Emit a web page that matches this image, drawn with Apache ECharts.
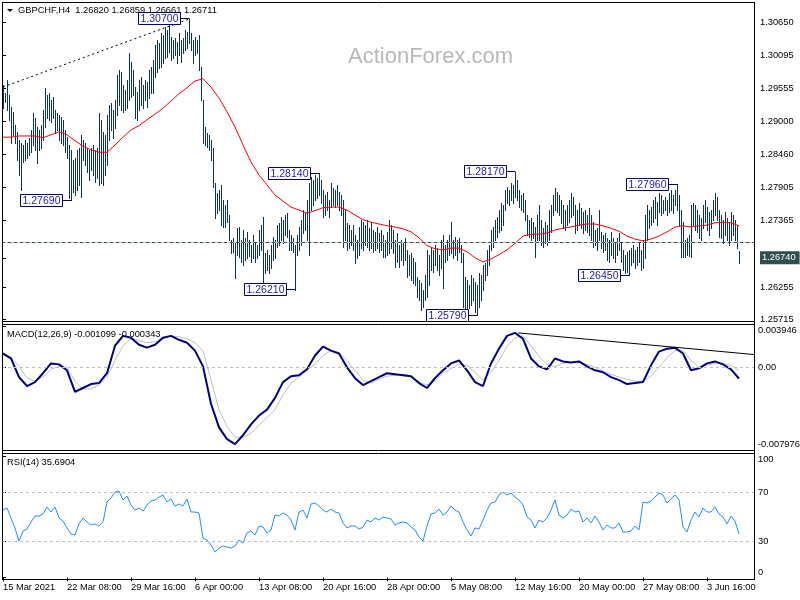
<!DOCTYPE html>
<html><head><meta charset="utf-8">
<script src="https://cdn.jsdelivr.net/npm/echarts@6/dist/echarts.min.js"></script>
<style>html,body{margin:0;padding:0;background:#fff}#c{width:800px;height:600px}</style>
</head><body><div id="c"></div>
<script>
// ---------------- DATA ----------------
const chartTitle = 'GBPCHF,H4  1.26820 1.26859 1.26661 1.26711';
const macdTitle = 'MACD(12,26,9) -0.001099 -0.000343';
const rsiTitle = 'RSI(14) 35.6904';
const watermark = 'ActionForex.com';

const timeLabels = ['15 Mar 2021','22 Mar 08:00','29 Mar 16:00','6 Apr 00:00','13 Apr 08:00','20 Apr 16:00','28 Apr 00:00','5 May 08:00','12 May 16:00','20 May 00:00','27 May 08:00','3 Jun 16:00'];
const timeLabelStep = 32; // bars between time labels

const barHigh = [
1.2961,1.2947,1.2969,1.2944,1.2924,1.2916,1.2894,1.2883,1.2869,1.2864,
1.2861,1.2869,1.2864,1.2873,1.2886,1.2914,1.2906,1.2891,1.2886,1.2894,
1.2919,1.2956,1.2944,1.2947,1.2936,1.2941,1.2919,1.2914,1.2911,1.2907,
1.2903,1.2886,1.2874,1.2861,1.2853,1.2836,1.2839,1.2853,1.2856,1.2878,
1.2869,1.2864,1.2856,1.2853,1.2856,1.2861,1.2853,1.2856,1.2914,1.2903,
1.2883,1.2878,1.2911,1.2927,1.2931,1.2919,1.2936,1.2977,1.2985,1.2982,
1.2961,1.2952,1.2969,1.3014,1.2999,1.2985,1.2957,1.2949,1.2969,1.2974,
1.2961,1.2969,1.2966,1.2985,1.2990,1.3002,1.3027,1.3035,1.3030,1.3047,
1.3043,1.3057,1.3052,1.3063,1.3040,1.3035,1.3038,1.3032,1.3047,1.3035,
1.3038,1.3052,1.3048,1.3070,1.3047,1.3035,1.3040,1.3035,1.3043,1.2990,
1.2936,1.2891,1.2881,1.2878,1.2869,1.2856,1.2798,1.2781,1.2786,1.2795,
1.2770,1.2762,1.2770,1.2745,1.2703,1.2707,1.2698,1.2723,1.2725,1.2703,
1.2720,1.2707,1.2717,1.2703,1.2695,1.2712,1.2698,1.2695,1.2720,1.2728,
1.2742,1.2682,1.2687,1.2679,1.2695,1.2708,1.2703,1.2728,1.2732,1.2742,
1.2737,1.2745,1.2748,1.2720,1.2712,1.2707,1.2695,1.2712,1.2725,1.2737,
1.2753,1.2750,1.2770,1.2798,1.2808,1.2803,1.2811,1.2806,1.2814,1.2803,
1.2786,1.2778,1.2783,1.2770,1.2798,1.2790,1.2786,1.2795,1.2783,1.2778,
1.2770,1.2753,1.2732,1.2728,1.2720,1.2728,1.2712,1.2703,1.2725,1.2737,
1.2733,1.2728,1.2737,1.2723,1.2733,1.2720,1.2717,1.2725,1.2715,1.2720,
1.2712,1.2703,1.2717,1.2737,1.2728,1.2720,1.2703,1.2715,1.2695,1.2703,
1.2700,1.2707,1.2687,1.2679,1.2682,1.2674,1.2667,1.2642,1.2637,1.2632,
1.2621,1.2645,1.2687,1.2679,1.2690,1.2687,1.2695,1.2690,1.2679,1.2703,
1.2712,1.2695,1.2703,1.2712,1.2733,1.2703,1.2708,1.2703,1.2707,1.2695,
1.2682,1.2642,1.2637,1.2629,1.2645,1.2640,1.2634,1.2629,1.2649,1.2645,
1.2662,1.2665,1.2687,1.2695,1.2720,1.2725,1.2737,1.2742,1.2753,1.2765,
1.2762,1.2786,1.2791,1.2786,1.2798,1.2795,1.2817,1.2803,1.2786,1.2778,
1.2781,1.2770,1.2745,1.2737,1.2740,1.2733,1.2725,1.2745,1.2762,1.2737,
1.2723,1.2733,1.2728,1.2753,1.2762,1.2778,1.2790,1.2783,1.2778,1.2770,
1.2762,1.2753,1.2762,1.2770,1.2781,1.2775,1.2762,1.2753,1.2765,1.2757,
1.2750,1.2753,1.2745,1.2757,1.2745,1.2733,1.2720,1.2723,1.2753,1.2717,
1.2712,1.2715,1.2707,1.2703,1.2717,1.2707,1.2700,1.2707,1.2715,1.2698,
1.2687,1.2679,1.2684,1.2687,1.2690,1.2695,1.2687,1.2692,1.2698,1.2687,
1.2703,1.2745,1.2762,1.2753,1.2758,1.2770,1.2775,1.2767,1.2781,1.2778,
1.2770,1.2775,1.2770,1.2781,1.2786,1.2778,1.2786,1.2796,1.2778,1.2753,
1.2733,1.2703,1.2707,1.2712,1.2762,1.2765,1.2762,1.2753,1.2745,1.2740,
1.2762,1.2770,1.2758,1.2750,1.2753,1.2770,1.2781,1.2775,1.2753,1.2745,
1.2737,1.2750,1.2740,1.2733,1.2750,1.2745,1.2737,1.2728,1.26859];

const barLow = [
1.2922,1.2932,1.2919,1.2903,1.2864,1.2878,1.2864,1.2836,1.2811,1.2786,
1.2833,1.2836,1.2839,1.2844,1.2849,1.2861,1.2853,1.2831,1.2853,1.2856,
1.2869,1.2891,1.2906,1.2903,1.2899,1.2906,1.2881,1.2886,1.2869,1.2864,
1.2861,1.2849,1.2839,1.2773,1.2769,1.2783,1.2778,1.2786,1.2795,1.2775,
1.2836,1.2828,1.2816,1.2803,1.2820,1.2811,1.2800,1.2806,1.2795,1.2798,
1.2795,1.2811,1.2828,1.2869,1.2886,1.2873,1.2889,1.2911,1.2927,1.2919,
1.2916,1.2919,1.2922,1.2936,1.2941,1.2944,1.2906,1.2903,1.2919,1.2927,
1.2922,1.2936,1.2924,1.2939,1.2947,1.2947,1.2974,1.2982,1.2989,1.2990,
1.2997,1.3005,1.3007,1.3015,1.3002,1.3005,1.3010,1.2997,1.3010,1.2999,
1.3014,1.3019,1.3022,1.3030,1.3019,1.2997,1.3010,1.3014,1.2985,1.2936,
1.2864,1.2861,1.2858,1.2853,1.2836,1.2791,1.2740,1.2748,1.2753,1.2728,
1.2725,1.2725,1.2733,1.2703,1.2682,1.2684,1.2640,1.2679,1.2675,1.2667,
1.2662,1.2670,1.2674,1.2677,1.2667,1.2674,1.2667,1.2674,1.2679,1.2687,
1.2632,1.2649,1.2654,1.2649,1.2657,1.2670,1.2674,1.2692,1.2695,1.2703,
1.2698,1.2712,1.2708,1.2687,1.2687,1.2684,1.2621,1.2679,1.2687,1.2695,
1.2715,1.2720,1.2703,1.2679,1.2753,1.2762,1.2770,1.2773,1.2778,1.2765,
1.2742,1.2745,1.2753,1.2742,1.2758,1.2762,1.2758,1.2762,1.2753,1.2745,
1.2692,1.2703,1.2687,1.2690,1.2695,1.2687,1.2665,1.2674,1.2679,1.2690,
1.2687,1.2695,1.2692,1.2687,1.2690,1.2684,1.2687,1.2690,1.2684,1.2687,
1.2675,1.2675,1.2679,1.2682,1.2690,1.2682,1.2659,1.2667,1.2659,1.2670,
1.2662,1.2670,1.2642,1.2645,1.2637,1.2632,1.2629,1.2609,1.2604,1.2587,
1.2592,1.2604,1.2609,1.2629,1.2654,1.2650,1.2662,1.2654,1.2645,1.2657,
1.2624,1.2667,1.2670,1.2679,1.2682,1.2674,1.2679,1.2670,1.2684,1.2667,
1.2592,1.2587,1.2584,1.2591,1.2596,1.2604,1.2584,1.2579,1.2592,1.2604,
1.2621,1.2637,1.2645,1.2662,1.2687,1.2692,1.2703,1.2708,1.2717,1.2720,
1.2728,1.2753,1.2765,1.2762,1.2770,1.2765,1.2775,1.2770,1.2758,1.2753,
1.2750,1.2737,1.2712,1.2708,1.2703,1.2707,1.2675,1.2703,1.2703,1.2695,
1.2692,1.2698,1.2695,1.2703,1.2717,1.2745,1.2753,1.2750,1.2745,1.2732,
1.2723,1.2720,1.2728,1.2733,1.2742,1.2745,1.2715,1.2720,1.2728,1.2723,
1.2715,1.2720,1.2717,1.2712,1.2703,1.2692,1.2695,1.2687,1.2703,1.2690,
1.2684,1.2687,1.2670,1.2667,1.2679,1.2674,1.2667,1.2679,1.2687,1.2667,
1.2654,1.2649,1.2650,1.2645,1.2662,1.2667,1.2657,1.2662,1.2667,1.2654,
1.2657,1.2674,1.2703,1.2723,1.2728,1.2733,1.2740,1.2728,1.2750,1.2745,
1.2748,1.2753,1.2745,1.2750,1.2753,1.2748,1.2762,1.2753,1.2728,1.2675,
1.2675,1.2675,1.2679,1.2677,1.2675,1.2728,1.2720,1.2717,1.2707,1.2703,
1.2723,1.2733,1.2720,1.2712,1.2723,1.2737,1.2745,1.2737,1.2708,1.2707,
1.2698,1.2712,1.2703,1.2695,1.2703,1.2712,1.2703,1.2690,1.26661];

const maStep = 4; // moving average sampled every 4 bars
const maValues = [
1.2874,1.2874,1.2876,1.2876,1.2876,1.2873,1.2878,1.2883,1.2878,1.2868,
1.2859,1.2853,1.2849,1.2849,1.2861,1.2874,1.2886,1.2893,1.2903,1.2912,
1.2922,1.2934,1.2946,1.2956,1.2967,1.2971,1.2957,1.2939,1.2916,1.2891,
1.2861,1.2833,1.2811,1.2795,1.2778,1.2768,1.2758,1.2753,1.2748,1.2752,
1.2757,1.2758,1.2758,1.2753,1.2745,1.2737,1.2733,1.2730,1.2727,1.2725,
1.2722,1.2717,1.2707,1.2694,1.2689,1.2687,1.2690,1.2690,1.2684,1.2674,
1.2667,1.2672,1.2679,1.2687,1.2698,1.2710,1.2713,1.2713,1.2715,1.2720,
1.2723,1.2725,1.2728,1.2730,1.2730,1.2727,1.2723,1.2718,1.2710,1.2705,
1.2702,1.2705,1.2710,1.2717,1.2725,1.2727,1.2725,1.2727,1.2728,1.2732,
1.2733,1.2732,1.2727];

const macdStep = 4;
const macdValues = [
0.001297,0.000824,-0.000974,-0.001826,-0.001447,-0.000596,0.000350,0.000256,-0.000312,-0.002394,
-0.002015,-0.001637,-0.001542,-0.000596,0.002054,0.002998,0.002811,0.002148,0.001864,0.002148,
0.002811,0.002998,0.002621,0.002337,0.001581,0.000066,-0.003529,-0.005800,-0.006935,-0.007408,
-0.006557,-0.005516,-0.004664,-0.004097,-0.002961,-0.001447,-0.000880,-0.000785,-0.000217,0.001107,
0.001959,0.001581,0.001297,-0.000028,-0.001069,-0.001731,-0.001353,-0.000974,-0.000596,-0.000690,
-0.000785,-0.000880,-0.001542,-0.002015,-0.001069,-0.000312,0.000350,0.000634,-0.000312,-0.001447,
-0.001826,0.000350,0.001770,0.002998,0.003284,0.002716,0.000824,0.000066,-0.000217,0.000824,
0.000540,0.000445,0.000540,0.000066,-0.000312,-0.000501,-0.000974,-0.001258,-0.001637,-0.001542,
-0.001447,0.000161,0.001486,0.001770,0.001864,0.001297,-0.000312,-0.000123,0.000350,0.000540,
0.000256,-0.000217,-0.001099];
const signalValues = [
0.001391,0.000824,0.000066,-0.001069,-0.001353,-0.000974,-0.000217,0.000066,-0.000028,-0.001353,
-0.002110,-0.002110,-0.001731,-0.000974,0.000634,0.002054,0.002716,0.002527,0.002337,0.002432,
0.002716,0.002998,0.002905,0.002716,0.002337,0.001581,-0.001258,-0.004097,-0.005705,-0.006746,
-0.006746,-0.006367,-0.005610,-0.004853,-0.004097,-0.002677,-0.001542,-0.000974,-0.000312,0.000256,
0.001107,0.001581,0.001391,0.000634,-0.000312,-0.001258,-0.001542,-0.001163,-0.000880,-0.000785,
-0.000690,-0.000880,-0.001447,-0.001731,-0.001353,-0.000596,-0.000123,0.000256,0.000161,-0.000501,
-0.001258,-0.000501,0.000634,0.001959,0.002811,0.002998,0.002054,0.001013,0.000256,0.000066,
0.000350,0.000445,0.000445,0.000256,-0.000028,-0.000407,-0.000690,-0.000974,-0.001163,-0.001353,
-0.001353,-0.000880,-0.000028,0.000918,0.001581,0.001581,0.000634,-0.000028,0.000161,0.000350,
0.000350,0.000161,-0.000343];

const rsiStep = 2;
const rsiValues = [
55.4,57.1,48.9,40.7,30.0,38.2,39.8,45.6,50.5,50.5,
52.2,57.9,53.8,57.9,48.9,46.4,40.7,35.7,34.9,44.0,
48.9,45.6,43.1,44.0,42.3,45.6,62.0,65.3,70.2,71.0,
63.7,66.9,59.5,55.4,57.1,54.6,59.5,62.8,63.7,66.1,
67.8,62.0,64.5,58.7,60.4,58.7,64.5,53.8,53.8,53.0,
32.4,30.8,26.7,20.9,24.2,25.9,25.1,24.2,25.9,30.8,
28.3,36.6,38.2,34.9,42.3,41.5,36.6,39.0,51.3,50.5,
53.0,51.3,47.2,39.0,53.8,55.4,48.9,60.4,61.2,58.7,
55.4,53.8,56.3,53.8,53.0,44.8,40.7,42.3,42.3,39.8,
41.5,47.2,45.6,48.9,47.2,49.7,48.9,48.1,43.1,44.8,
45.6,44.8,41.5,39.0,33.3,30.0,42.3,52.2,53.0,56.3,
51.3,53.8,58.7,55.4,53.8,45.6,39.0,34.1,40.7,39.8,
47.2,55.4,61.2,62.0,67.8,70.2,67.8,69.4,66.1,63.7,
59.5,49.7,47.2,40.7,47.2,45.6,48.9,55.4,63.7,51.3,
48.9,51.3,56.3,53.8,54.6,45.6,48.9,44.8,50.5,45.6,
39.0,43.1,40.7,40.7,44.8,37.4,37.4,38.2,42.3,39.0,
62.0,61.2,62.8,66.1,69.4,67.8,61.2,64.5,67.8,63.7,
41.5,37.4,47.2,53.8,49.7,57.1,53.8,53.8,57.9,52.2,
49.7,44.0,50.5,46.4,35.7];

const priceTicks = [1.30650,1.30095,1.29555,1.29000,1.28460,1.27905,1.27365,1.26740,1.26255,1.25715];
const markedPrice = 1.26740;
const bidPrice = 1.26711;
const macdTicks = [-0.007976, 0, 0.003946];
const rsiTicks = [0, 30, 70, 100];
const rsiLevels = [30, 70];

// swing annotations: [bar index, price]
const swingPoints = [[93,1.30700],[34,1.27690],[158,1.28140],[146,1.26210],[237,1.25790],[256,1.28170],[313,1.26450],[337,1.27960]];
// trend lines: [bar index, value]
const priceTrend = [[0,1.29572],[93,1.30700]];
const macdTrend = [[257.5,0.003284],[375.5,0.001202]];

// ---------------- CHART ----------------
const FONT = '"Liberation Sans", Arial, sans-serif';
const FS = 9.3;
const BAR_COLOR = '#0d3552';
const chart = echarts.init(document.getElementById('c'), null, {renderer:'canvas', devicePixelRatio:1});

const xMin = -0.5, xMax = 375.5;
const gridBase = {left:2, width:752, show:false, outerBoundsMode:'none', containLabel:false};
const labelStyle = {color:'#000', fontFamily:FONT, fontSize:FS};

function xAx(idx, showLabels){
  const ticks = timeLabels.map((t,k)=>k*timeLabelStep);
  return {type:'value', gridIndex:idx, min:xMin, max:xMax, splitLine:{show:false},
    axisLine:{show:false},
    axisTick:{show:showLabels, customValues:ticks, length:4, inside:false, lineStyle:{color:'#000'}},
    axisLabel:{show:showLabels, customValues:ticks, align:'left', margin:4, ...labelStyle,
      formatter:(v)=>timeLabels[Math.round(v/timeLabelStep)] || ''}};
}

const option = {
  animation:false,
  backgroundColor:'#ffffff',
  grid:[
    {...gridBase, top:2, height:319},
    {...gridBase, top:326, height:124},
    {...gridBase, top:453, height:126}
  ],
  xAxis:[xAx(0,false), xAx(1,false), xAx(2,true)],
  yAxis:[
    {type:'value', gridIndex:0, position:'right', min:1.256911, max:1.309817, scale:true,
      splitLine:{show:false}, axisLine:{show:false},
      axisTick:{show:true, customValues:priceTicks, length:3, lineStyle:{color:'#000'}},
      axisLabel:{customValues:priceTicks, margin:6, ...labelStyle,
        formatter:(v)=> Math.abs(v-markedPrice)<1e-7 ? '{hl|'+v.toFixed(5)+'}' : v.toFixed(5),
        rich:{hl:{backgroundColor:'#2f4f4f', color:'#ffffff', fontFamily:FONT, fontSize:FS, padding:[2,4,2,2]}}}},
    {type:'value', gridIndex:1, position:'right', min:-0.007976, max:0.003946,
      splitLine:{show:false}, axisLine:{show:false},
      axisTick:{show:true, customValues:macdTicks, length:3, lineStyle:{color:'#000'}},
      axisLabel:{customValues:macdTicks, margin:4, ...labelStyle,
        formatter:(v)=> v===0 ? '0.00' : (v>0 ? '{top|'+v.toFixed(6)+'}' : '{bot|'+v.toFixed(6)+'}'),
        rich:{top:{padding:[9,0,0,0], fontFamily:FONT, fontSize:FS, color:'#000'},
              bot:{padding:[0,0,12,0], fontFamily:FONT, fontSize:FS, color:'#000'}}}},
    {type:'value', gridIndex:2, position:'right', min:-1.21, max:102.28,
      splitLine:{show:false}, axisLine:{show:false},
      axisTick:{show:true, customValues:rsiTicks, length:3, lineStyle:{color:'#000'}},
      axisLabel:{customValues:rsiTicks, margin:4, ...labelStyle,
        formatter:(v)=> v===100 ? '{top|100}' : (v===0 ? '{bot|0}' : String(v)),
        rich:{top:{padding:[8,0,0,0], fontFamily:FONT, fontSize:FS, color:'#000'},
              bot:{padding:[0,0,10,0], fontFamily:FONT, fontSize:FS, color:'#000'}}}}
  ],
  series:[
    { // price bars (high-low)
      type:'custom', xAxisIndex:0, yAxisIndex:0, silent:true, z:2,
      data: barHigh.map((h,i)=>[i,h,barLow[i]]),
      encode:{x:0, y:[1,2]},
      renderItem:(params, api)=>{
        const i = api.value(0);
        const a = api.coord([i, api.value(1)]);
        const b = api.coord([i, api.value(2)]);
        const x = Math.round(a[0]-0.5)+0.5;
        return {type:'line', shape:{x1:x, y1:Math.round(a[1]), x2:x, y2:Math.round(b[1])+1},
          style:{stroke:BAR_COLOR, lineWidth:1}};
      },
      markLine:{silent:true, symbol:['none','none'], label:{show:false}, animation:false,
        data:[
          {yAxis:bidPrice, lineStyle:{color:'#c0c0c0', type:'solid', width:1}},
          {yAxis:markedPrice, lineStyle:{color:'#2f4f4f', type:[3,3], width:1}},
          [{coord:priceTrend[0]}, {coord:priceTrend[1], lineStyle:{color:'#000', type:[2,3], width:1}}]
        ]}
    },
    { // moving average
      type:'line', xAxisIndex:0, yAxisIndex:0, silent:true, z:3, showSymbol:false, symbol:'none',
      data: maValues.map((v,k)=>[k*maStep, v]),
      lineStyle:{color:'#ff0000', width:1}
    },
    { // swing annotations
      type:'custom', xAxisIndex:0, yAxisIndex:0, silent:true, z:10, clip:false,
      data: swingPoints,
      renderItem:(params, api)=>{
        const p = api.coord([api.value(0), api.value(1)]);
        const col = Math.round(p[0]-0.5);
        const row = Math.round(p[1]-0.5);
        const right = col - 9;
        const w = 42, h = 12;
        const txt = api.value(1).toFixed(5);
        return {type:'group', children:[
          {type:'line', shape:{x1:right+0.5, y1:row+0.5, x2:col+0.5, y2:row+0.5}, style:{stroke:'#000080', lineWidth:1}},
          {type:'rect', shape:{x:right-w+0.5, y:row-h/2+0.5, width:w, height:h}, style:{fill:'#ffffff', stroke:'#000080', lineWidth:1}},
          {type:'text', style:{text:txt, x:right-w/2+0.5, y:row+1, align:'center', verticalAlign:'middle', textAlign:'center', textVerticalAlign:'middle', font:'10.5px '+FONT, fill:'#1c1caa'}}
        ]};
      }
    },
    { // MACD signal
      type:'line', xAxisIndex:1, yAxisIndex:1, silent:true, z:3, showSymbol:false, symbol:'none',
      data: signalValues.map((v,k)=>[k*macdStep, v]),
      lineStyle:{color:'#c0c0c0', width:1},
      markLine:{silent:true, symbol:['none','none'], label:{show:false}, animation:false,
        data:[
          {yAxis:0, lineStyle:{color:'#c0c0c0', type:[3,3], width:1}},
          [{coord:macdTrend[0]}, {coord:macdTrend[1], lineStyle:{color:'#000', type:'solid', width:1}}]
        ]}
    },
    { // MACD main
      type:'line', xAxisIndex:1, yAxisIndex:1, silent:true, z:4, showSymbol:false, symbol:'none',
      data: macdValues.map((v,k)=>[k*macdStep, v]),
      lineStyle:{color:'#000080', width:2}
    },
    { // RSI
      type:'line', xAxisIndex:2, yAxisIndex:2, silent:true, z:3, showSymbol:false, symbol:'none',
      data: rsiValues.map((v,k)=>[k*rsiStep, v]),
      lineStyle:{color:'#1e90ff', width:1},
      markLine:{silent:true, symbol:['none','none'], label:{show:false}, animation:false,
        data: rsiLevels.map(v=>({yAxis:v, lineStyle:{color:'#c0c0c0', type:[3,3], width:1}}))}
    }
  ],
  graphic:[
    {type:'text', silent:true, z:1, style:{text:watermark, x:348, y:56.7, font:'22px '+FONT, fill:'#b8b8b8', align:'left', verticalAlign:'middle', textAlign:'left', textVerticalAlign:'middle'}},
    {type:'polygon', silent:true, z:20, shape:{points:[[7,9],[13,9],[10,12]]}, style:{fill:'#000'}},
    {type:'text', silent:true, z:20, style:{text:chartTitle, x:18, y:10.7, font:FS+'px '+FONT, fill:'#000', align:'left', verticalAlign:'middle', textAlign:'left', textVerticalAlign:'middle'}},
    {type:'text', silent:true, z:20, style:{text:macdTitle, x:7, y:334.3, font:FS+'px '+FONT, fill:'#000', align:'left', verticalAlign:'middle', textAlign:'left', textVerticalAlign:'middle'}},
    {type:'text', silent:true, z:20, style:{text:rsiTitle, x:7, y:462.7, font:FS+'px '+FONT, fill:'#000', align:'left', verticalAlign:'middle', textAlign:'left', textVerticalAlign:'middle'}},
    // frames
    {type:'line', silent:true, z:30, shape:{x1:2.5, y1:2, x2:2.5, y2:580}, style:{stroke:'#000', lineWidth:1}},
    {type:'line', silent:true, z:30, shape:{x1:754.5, y1:2, x2:754.5, y2:580}, style:{stroke:'#000', lineWidth:1}},
    {type:'line', silent:true, z:30, shape:{x1:2, y1:2.5, x2:755, y2:2.5}, style:{stroke:'#000', lineWidth:1}},
    {type:'line', silent:true, z:30, shape:{x1:2, y1:321.5, x2:755, y2:321.5}, style:{stroke:'#000', lineWidth:1}},
    {type:'line', silent:true, z:30, shape:{x1:2, y1:324.5, x2:755, y2:324.5}, style:{stroke:'#000', lineWidth:1}},
    {type:'line', silent:true, z:30, shape:{x1:2, y1:450.5, x2:755, y2:450.5}, style:{stroke:'#000', lineWidth:1}},
    {type:'line', silent:true, z:30, shape:{x1:2, y1:453.5, x2:755, y2:453.5}, style:{stroke:'#000', lineWidth:1}},
    {type:'line', silent:true, z:30, shape:{x1:2, y1:579.5, x2:755, y2:579.5}, style:{stroke:'#000', lineWidth:1}}
  ]
};
chart.setOption(option);
</script>
</body></html>
